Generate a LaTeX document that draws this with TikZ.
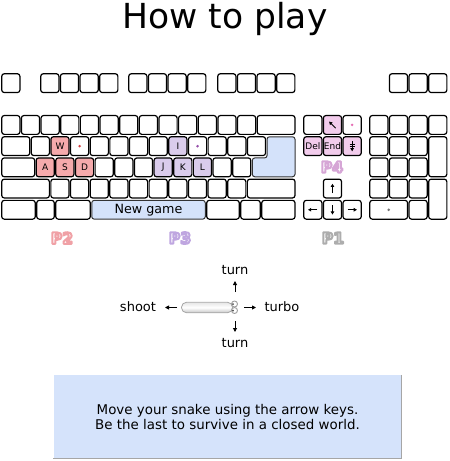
\documentclass[tikz,border=0pt]{standalone}
\usepackage{fontspec}
\setmainfont{DejaVu Sans}
\usetikzlibrary{arrows.meta}
\definecolor{kbblue}{RGB}{212,226,250}
\definecolor{ptwo}{RGB}{245,170,172}
\definecolor{pthree}{RGB}{218,204,236}
\definecolor{pfour}{RGB}{242,204,236}
\definecolor{dottwo}{RGB}{210,60,60}
\definecolor{dotthree}{RGB}{150,80,170}
\definecolor{dotfour}{RGB}{230,110,180}
\definecolor{boxblue}{RGB}{213,227,251}
% key: [opts]{name}{x1}{y1}{x2}{y2}{text}
\newcommand\kbk[7][]{\node[kbkey,#1,minimum width={(#5)-(#3)-1.5},minimum height={(#6)-(#4)-1.5}] (#2) at ({((#3)+(#5))/2},{((#4)+(#6))/2}) {#7};}
% outlined text: {r g b stroke}{text}
\newcommand\outltxt[2]{{\color{white}\special{pdf:literal direct #1 RG 2 w 1 J 1 j 2 Tr}#2\special{pdf:literal direct 0 Tr}}}
\begin{document}
\begin{tikzpicture}[x=1pt,y=-1pt,
  kbkey/.style={draw=black, line width=1.2pt, fill=white, rounded corners=2.5pt, inner sep=0pt, outer sep=0pt, font=\fontsize{9}{9}\selectfont},
  bluekey/.style={fill=kbblue, draw=black!80, line width=1pt},
  plfont/.style={font=\fontsize{15.5}{15.5}\selectfont\bfseries, inner sep=0pt},
  txt/.style={font=\fontsize{13}{14}\selectfont, inner sep=0pt},
  arr/.style={line width=0.9pt, -{Triangle[length=4pt,width=4pt]}},
  karr/.style={line width=0.9pt, -{Triangle[length=3.2pt,width=3.5pt]}}]
\useasboundingbox (0,0) rectangle (450,461);

\node[font=\fontsize{34.5}{36}\selectfont, anchor=base, inner sep=0pt] (title) at (225,28.3) {How to play};

% function row
\kbk{fesc}{1}{73}{20.65}{93.3}{}
\foreach \i in {0,...,3}{\kbk{fa\i}{40+19.65*\i}{73}{40+19.65*(\i+1)}{93.3}{}}
\foreach \i in {0,...,3}{\kbk{fb\i}{128+19.65*\i}{73}{128+19.65*(\i+1)}{93.3}{}}
\foreach \i in {0,...,3}{\kbk{fc\i}{217+19.65*\i}{73}{217+19.65*(\i+1)}{93.3}{}}
\foreach \i in {0,...,2}{\kbk{fd\i}{388.65+19.65*\i}{73}{388.65+19.65*(\i+1)}{93.3}{}}

% row 1
\foreach \i in {0,...,12}{\kbk{ra\i}{1+19.65*\i}{114.8}{1+19.65*(\i+1)}{135.1}{}}
\kbk{bksp}{256.45}{114.8}{295.75}{135.1}{}

% row 2
\kbk{tab}{1}{136}{30.5}{156.3}{}
\foreach \i in {0,3,4,5,6,9,10,11}{\kbk{rb\i}{30.5+19.65*\i}{136}{30.5+19.65*(\i+1)}{156.3}{}}
\kbk[fill=ptwo]{kW}{50.15}{136}{69.8}{156.3}{W}
\kbk{kE}{69.8}{136}{89.45}{156.3}{}
\kbk[fill=pthree]{kI}{168.05}{136}{187.7}{156.3}{I}
\kbk{kO}{187.7}{136}{207.35}{156.3}{}
\fill[dottwo] (kE) circle (1.4pt);
\fill[dotthree] (kO) circle (1.4pt);
% enter
\draw[bluekey, rounded corners=2.5pt] (267.05,136.75) -- (295,136.75) -- (295,176.75) -- (252.3,176.75) -- (252.3,157.95) -- (267.05,157.95) -- cycle;

% row 3
\kbk{caps}{1}{157.2}{35.4}{177.5}{}
\foreach \i in {3,4,5,9,10}{\kbk{rc\i}{35.4+19.65*\i}{157.2}{35.4+19.65*(\i+1)}{177.5}{}}
\kbk[fill=ptwo]{kA}{35.4}{157.2}{55.05}{177.5}{A}
\kbk[fill=ptwo]{kS}{55.05}{157.2}{74.7}{177.5}{S}
\kbk[fill=ptwo]{kD}{74.7}{157.2}{94.35}{177.5}{D}
\kbk[fill=pthree]{kJ}{153.3}{157.2}{172.95}{177.5}{J}
\kbk[fill=pthree]{kK}{172.95}{157.2}{192.6}{177.5}{K}
\kbk[fill=pthree]{kL}{192.6}{157.2}{212.25}{177.5}{L}

% row 4
\kbk{lsh}{1}{178.4}{50.1}{198.7}{}
\foreach \i in {0,...,9}{\kbk{rd\i}{50.1+19.65*\i}{178.4}{50.1+19.65*(\i+1)}{198.7}{}}
\kbk{rsh}{246.6}{178.4}{295.75}{198.7}{}

% row 5
\kbk{re0}{1}{199.6}{36}{219.9}{}
\kbk{re1}{36}{199.6}{55}{219.9}{}
\kbk{re2}{55}{199.6}{91}{219.9}{}
\kbk[bluekey,font=\fontsize{12.7}{13}\selectfont]{space}{91}{199.6}{206}{219.9}{New game}
\kbk{re4}{206}{199.6}{240}{219.9}{}
\kbk{re5}{240}{199.6}{261}{219.9}{}
\kbk{re6}{261}{199.6}{295.75}{219.9}{}

% navigation cluster
\kbk{nins}{303}{114.8}{322.65}{135.1}{}
\kbk[fill=pfour]{nhome}{322.65}{114.8}{342.3}{135.1}{}
\kbk{npgup}{342.3}{114.8}{361.95}{135.1}{}
\fill[dotfour] (npgup) circle (1.4pt);
\draw[karr] ([shift={(3.2,3.2)}]nhome.center) -- ([shift={(-3.4,-3.4)}]nhome.center);
\kbk[fill=pfour]{ndel}{303}{136}{322.65}{156.3}{Del}
\kbk[fill=pfour]{nend}{322.65}{136}{342.3}{156.3}{End}
\kbk[fill=pfour]{npgdn}{342.3}{136}{361.95}{156.3}{}
\draw[karr] ([yshift=5]npgdn.center) -- ([yshift=-5.2]npgdn.center);
\draw[line width=0.8pt] ([shift={(-2.5,-2.2)}]npgdn.center) -- ([shift={(2.5,-2.2)}]npgdn.center);
\draw[line width=0.8pt] ([shift={(-2.5,0.3)}]npgdn.center) -- ([shift={(2.5,0.3)}]npgdn.center);

% arrow keys
\kbk{kup}{322.65}{178.4}{342.3}{198.7}{}
\kbk{kleft}{303}{199.6}{322.65}{219.9}{}
\kbk{kdown}{322.65}{199.6}{342.3}{219.9}{}
\kbk{kright}{342.3}{199.6}{361.95}{219.9}{}
\draw[karr] ([yshift=-4.5]kup.center) -- ([yshift=4.8]kup.center);
\draw[karr] ([yshift=4.5]kdown.center) -- ([yshift=-4.8]kdown.center);
\draw[karr] ([xshift=4.5]kleft.center) -- ([xshift=-4.8]kleft.center);
\draw[karr] ([xshift=-4.5]kright.center) -- ([xshift=4.8]kright.center);

% numeric keypad
\foreach \i in {0,...,3}{\kbk{na\i}{369+19.65*\i}{114.8}{369+19.65*(\i+1)}{135.1}{}}
\foreach \i in {0,...,2}{\kbk{nb\i}{369+19.65*\i}{136}{369+19.65*(\i+1)}{156.3}{}}
\foreach \i in {0,...,2}{\kbk{nc\i}{369+19.65*\i}{157.2}{369+19.65*(\i+1)}{177.5}{}}
\foreach \i in {0,...,2}{\kbk{nd\i}{369+19.65*\i}{178.4}{369+19.65*(\i+1)}{198.7}{}}
\kbk{nplus}{427.95}{136}{447.6}{177.5}{}
\kbk{nent}{427.95}{178.4}{447.6}{219.9}{}
\kbk{nzero}{369}{199.6}{408.3}{219.9}{}
\kbk{ndot}{408.3}{199.6}{427.95}{219.9}{}
\fill[black!55] (nzero) circle (1.4pt);

% player labels (outlined letters)
\node[plfont] (ltwo) at (62,238) {\outltxt{0.94 0.63 0.65}{P2}};
\node[plfont] (lthree) at (180,238) {\outltxt{0.75 0.65 0.88}{P3}};
\node[plfont] (lfour) at (332,167) {\outltxt{0.84 0.65 0.84}{P4}};
\node[plfont] (lone) at (333,238) {\outltxt{0.68 0.68 0.68}{P1}};

% mouse
\node[draw=gray!70, line width=0.8pt, top color=gray!20, bottom color=gray!45, middle color=white, rounded corners=5pt, minimum width=51, minimum height=10.5, inner sep=0pt] (mouse) at (207,307.5) {};
\node[draw=gray!75, line width=0.9pt, fill=white, circle, minimum size=6, inner sep=0pt] (btna) at (234.5,304) {};
\node[draw=gray!75, line width=0.9pt, fill=white, circle, minimum size=6, inner sep=0pt] (btnb) at (234.5,310.5) {};
\fill[black!70] (233,304) circle (1pt);
\fill[black!70] (233,310.5) circle (1pt);
\node[txt] (turnu) at (235,270) {turn};
\node[txt] (turnd) at (235,343) {turn};
\node[txt] (shoot) at (138,307) {shoot};
\node[txt] (turbo) at (282,307) {turbo};
\coordinate (ua) at (235,292);
\coordinate (ub) at (235,281);
\coordinate (da) at (235,321);
\coordinate (db) at (235,332);
\coordinate (la) at (177,307.5);
\coordinate (lb) at (165,307.5);
\coordinate (ra) at (244,307.5);
\coordinate (rb) at (256,307.5);
\draw[arr] (ua) -- (ub);
\draw[arr] (da) -- (db);
\draw[arr] (la) -- (lb);
\draw[arr] (ra) -- (rb);

% info box
\node[fill=boxblue, minimum width=348, minimum height=83, inner sep=0pt, align=center, font=\fontsize{13.4}{15}\selectfont] (info) at (227.5,416.5) {Move your snake using the arrow keys.\\Be the last to survive in a closed world.};
\draw[gray!70, line width=1pt] (info.north east) -- (info.south east) -- (info.south west);
\end{tikzpicture}
\end{document}
